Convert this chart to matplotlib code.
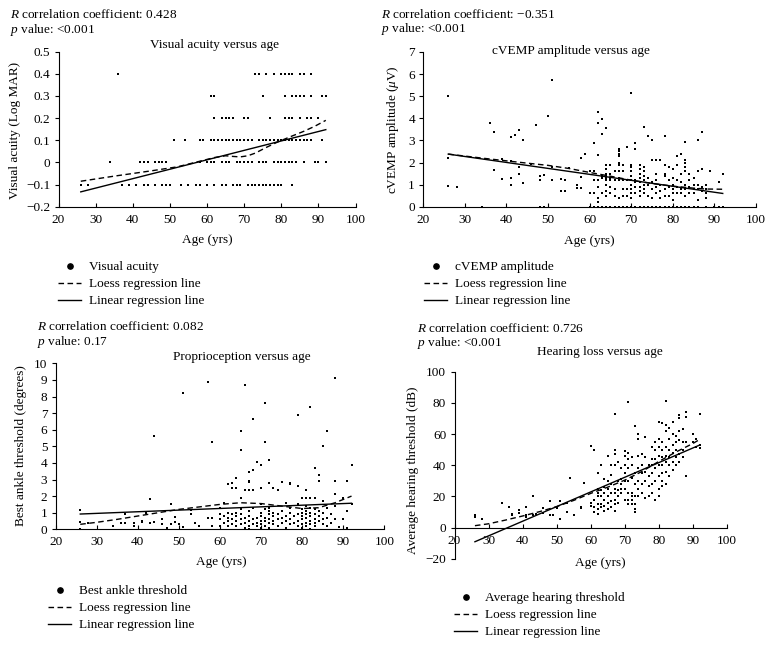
import numpy as np
import matplotlib
matplotlib.use("Agg")
import matplotlib.pyplot as plt
from matplotlib.lines import Line2D
from matplotlib.ticker import FuncFormatter, MultipleLocator

plt.rcParams["font.family"] = ["Liberation Serif", "DejaVu Serif"]
plt.rcParams["mathtext.fontset"] = "custom"
plt.rcParams["mathtext.rm"] = "Liberation Serif"
plt.rcParams["mathtext.it"] = "Liberation Serif:italic"
plt.rcParams["font.size"] = 9.5

# ---- visual acuity (LogMAR rows and the ages found on each row)
va_rows = [-0.1, 0.0, 0.1, 0.2, 0.3, 0.4]
va_ages = [
    [26, 28, 37, 39, 41, 43, 44, 46, 48, 49, 50, 53, 55, 57, 58, 60, 62, 64, 65,
     67, 68, 69, 71, 72, 73, 74, 75, 76, 77, 78, 79, 80, 83],
    [34, 42, 43, 44, 46, 47, 48, 49, 58, 60, 61, 62, 64, 65, 66, 68, 69, 70, 71,
     72, 74, 75, 76, 78, 79, 80, 81, 82, 83, 84, 86, 89, 90, 92],
    [51, 54, 58, 59, 61, 62, 63, 64, 65, 66, 67, 68, 69, 70, 71, 72, 74, 75, 76,
     77, 78, 79, 80, 81, 82, 83, 84, 85, 86, 87, 88, 91],
    [62, 64, 65, 66, 67, 70, 71, 77, 81, 82, 83, 85, 87, 88, 90],
    [61, 62, 75, 81, 83, 84, 85, 86, 88, 91, 92],
    [36, 73, 74, 76, 78, 80, 81, 82, 83, 85, 86, 88],
]
va_loess_x = [26, 35, 45, 52, 58, 62, 65, 67, 69, 71, 73, 76, 79, 82, 86, 89, 92]
va_loess_y = [-0.085, -0.062, -0.038, -0.02, 0.005, 0.022, 0.03, 0.027, 0.025,
              0.03, 0.042, 0.068, 0.092, 0.113, 0.14, 0.163, 0.19]
va_lin_x = [26, 92]
va_lin_y = [-0.133, 0.148]

# ---- cVEMP amplitude (uV) per age
cv_ages = [26, 28, 34, 36, 37, 39, 41, 42, 43, 44, 46, 47, 48, 49, 50, 51, 53, 54,
           55, 57, 58, 59, 60, 61, 62, 63, 64, 65, 66, 67, 68, 69, 70, 71, 72, 73,
           74, 75, 76, 77, 78, 79, 80, 81, 82, 83, 84, 85, 86, 87, 88, 89, 90, 91, 92]
cv_vals = [
    [5.0, 2.2, 0.95], [0.87], [0], [3.8], [3.4, 1.65], [2.15, 1.25],
    [3.15, 2.05, 1.3, 1.0], [3.25], [3.45, 1.8, 1.5], [3.0, 1.05], [1.95], [3.7],
    [1.4, 1.2, 0], [1.45, 0], [4.1], [5.75, 1.8, 1.2], [1.25, 0.7], [1.2, 0.7],
    [1.75], [1.0, 0.85], [2.2, 1.35, 0.85], [2.4], [1.6, 0.6, 0],
    [2.9, 1.6, 1.2, 0.6, 0], [4.3, 3.8, 2.35, 1.2, 0.9, 0.4, 0.2, 0],
    [3.95, 3.3, 1.4, 1.3, 0.6, 0], [3.55, 1.9, 1.7, 1.5, 1.4, 1.3, 1.2, 1.0, 0.7, 0.5, 0],
    [1.9, 1.5, 1.3, 1.2, 0.9, 0.6, 0], [1.6, 1.2, 0.8, 0.5, 0],
    [2.6, 2.5, 2.4, 2.3, 2.0, 1.9, 1.6, 1.3, 1.2, 0.4, 0],
    [1.9, 1.6, 1.2, 0.8, 0.5, 0], [2.7, 1.2, 0.8, 0.5, 0],
    [5.15, 1.9, 1.8, 1.6, 1.4, 1.2, 1.0, 0.8, 0.6, 0.4, 0],
    [2.9, 2.6, 1.2, 1.1, 0.9, 0.6, 0], [1.9, 1.7, 1.5, 1.3, 1.1, 0.9, 0.7, 0.5, 0],
    [3.6, 1.8, 1.6, 1.4, 1.2, 1.0, 0.8, 0.6, 0], [3.2, 1.3, 1.0, 0.5, 0],
    [3.0, 2.1, 1.1, 0.8, 0.4, 0], [2.1, 1.5, 1.2, 0.9, 0.6, 0], [2.1, 1.0, 0.7, 0.4, 0],
    [3.2, 1.9, 1.5, 1.4, 0.8, 0.5, 0], [1.8, 1.2, 0.9, 0.5, 0],
    [1.7, 1.3, 1.0, 0.8, 0.6, 0.3, 0], [2.3, 1.9, 1.2, 0.9, 0.6, 0],
    [2.4, 1.5, 1.1, 0.8, 0.6, 0], [2.95, 2.1, 2.0, 1.8, 1.6, 1.0, 0.8, 0.5, 0],
    [1.5, 1.2, 0.9, 0.6, 0], [1.3, 1.0, 0.8, 0.6, 0], [3.0, 1.6, 1.0, 0.8, 0.3, 0],
    [3.4, 1.7, 0.9, 0.7], [1.0, 0.8, 0.6, 0.4, 0], [1.6], [0], [1.1, 0], [1.5, 0],
]
cv_loess_x = [26, 35, 45, 50, 55, 60, 65, 70, 75, 80, 85, 88, 92]
cv_loess_y = [2.38, 2.18, 1.97, 1.87, 1.73, 1.55, 1.38, 1.2, 1.05, 0.93, 0.84, 0.8, 0.79]
cv_lin_x = [26, 92]
cv_lin_y = [2.38, 0.6]

# ---- best ankle threshold (degrees) per age
an_ages = [26, 28, 34, 36, 37, 39, 41, 42, 43, 44, 46, 47, 48, 49, 50, 51, 53, 54,
           55, 57, 58, 60, 61, 62, 63, 64, 65, 66, 67, 68, 69, 70, 71, 72, 73, 74,
           75, 76, 77, 78, 79, 80, 81, 82, 83, 84, 85, 86, 87, 88, 89, 90, 91, 92]
an_vals = [
    [1.15, 0.45, 0], [0.4], [0.2], [0.35], [0.35, 0.9], [0.4, 0.2], [0.5, 0.45],
    [1.0], [1.85, 0.4], [5.65, 0.45], [0.6, 0.3], [0.05], [1.55, 0.3],
    [0.75, 0.45], [0.3], [8.2, 0.15], [1.15, 0.9], [0.35], [0.2], [8.85, 0.7],
    [5.25, 0.7, 0.2], [1.3, 0.9, 0.6, 0.2], [1.6, 0.8, 0.4],
    [2.75, 1.0, 0.7, 0.5, 0.2], [2.8, 2.5, 0.9, 0.6, 0.3],
    [3.1, 2.5, 1.0, 0.8, 0.5, 0.2], [5.95, 4.8, 1.9, 1.2, 0.9, 0.6, 0.3],
    [8.7, 2.35, 0.7, 0.4, 0.1], [3.45, 2.9, 2.85, 2.35, 1.1, 0.8, 0.5, 0.2, 0.0],
    [6.65, 3.6, 2.35, 1.3, 0.6, 0.3], [4.05, 0.7, 0.4, 0.2],
    [3.85, 2.5, 1.5, 1.0, 0.8, 0.5, 0.3, 0.1], [7.6, 5.25, 1.2, 0.7, 0.5, 0.2],
    [4.15, 2.8, 1.3, 1.1, 0.9, 0.6, 0.4, 0.1], [2.5, 1.0, 0.8, 0.5, 0.3],
    [2.35, 0.9, 0.6, 0.2], [2.85, 1.1, 0.7, 0.4], [1.6, 0.8, 0.5, 0.1],
    [2.8, 2.7, 1.3, 1.0, 0.6, 0.3], [0.8, 0.4], [6.9, 2.6, 1.5, 0.9, 0.5, 0.2],
    [1.9, 1.2, 1.0, 0.8, 0.6, 0.3, 0.1], [2.35, 1.9, 1.4, 1.1, 0.9, 0.7, 0.4, 0.2],
    [7.35, 1.9, 1.3, 1.0, 0.8, 0.5, 0.3, 0.0], [3.7, 1.9, 1.2, 0.9, 0.6, 0.4, 0.2],
    [3.3, 2.9, 1.1, 0.8, 0.5], [5.0, 1.7, 1.0, 0.6, 0.3], [5.9, 1.3, 0.7, 0.2],
    [0.9, 0.4], [9.1, 2.9, 2.15, 1.4, 0.6], [0.15], [1.9, 0.6], [2.9, 1.1, 0.05],
    [3.85, 1.5],
]
an_loess_x = [26, 30, 35, 40, 45, 50, 55, 60, 65, 70, 75, 80, 84, 88, 92]
an_loess_y = [0.3, 0.42, 0.6, 0.8, 1.0, 1.2, 1.35, 1.5, 1.6, 1.55, 1.4, 1.25, 1.3, 1.6, 2.0]
an_lin_x = [26, 92]
an_lin_y = [0.92, 1.57]

# ---- average hearing threshold (dB) per age
he_ages = [26, 28, 34, 36, 37, 39, 41, 43, 44, 46, 48, 49, 50, 51, 53, 54, 55, 57,
           58, 60, 61, 62, 63, 64, 65, 66, 67, 68, 69, 70, 71, 72, 73, 74, 75, 76,
           77, 78, 79, 80, 81, 82, 83, 84, 85, 86, 87, 88, 90, 91, 92]
he_vals = [
    [8, 6.6], [5.5], [16], [13.5], [9, 8], [11.3, 9.6], [13.5, 8, 7], [20.3, 8],
    [9], [12.4, 9.6], [17.3, 8], [8], [13.5, 12.4], [17, 5.3], [15.6, 10.3], [32],
    [8], [13.5, 12.4], [28.4], [52.4, 15.6, 14], [49.8, 17.7, 13.5, 10],
    [35, 25, 22, 20, 15, 12, 9], [40, 24, 20, 15, 13], [31, 26, 22, 18, 14, 11],
    [46, 30, 25, 20, 16, 12], [40, 34, 28, 22, 17, 13],
    [73, 50, 47, 40, 25, 22, 18, 15, 11], [42, 30, 24, 20, 16], [38, 31, 28, 25, 22],
    [49, 46, 40, 35, 30, 25, 18], [80.5, 48, 44, 38, 30, 22, 18, 15],
    [45, 40, 32, 22, 20, 18, 15], [65, 35, 28, 20, 15, 12, 10],
    [60, 57, 46, 38, 30, 25, 20], [47, 40, 35, 28, 22], [58, 45, 36, 30, 19],
    [40, 33, 27, 20], [52, 44, 40, 35, 28, 22], [55, 50, 44, 38, 30, 18],
    [68, 57, 52, 46, 40, 33, 25, 20], [67, 55, 50, 45, 40, 35, 30, 27],
    [81, 66, 62, 52, 46, 42, 36, 28], [64, 57, 50, 45, 40, 33],
    [68, 60, 53, 48, 42, 37], [59, 55, 50, 45, 40], [72, 70, 62, 56, 47, 42],
    [63, 55, 50, 45], [74, 71, 55, 33], [60, 55], [57, 52], [73, 53, 51],
]
he_loess_x = [26, 30, 35, 40, 45, 50, 55, 60, 65, 70, 75, 80, 85, 90, 92]
he_loess_y = [1.3, 2.5, 4.9, 7.5, 10.3, 13.5, 17.5, 22, 26, 30.5, 36, 42.5, 48.5, 54, 56.6]
he_lin_x = [26, 92]
he_lin_y = [-9, 53]

W, H = 770, 645


def px_box(x0, x1, y_top, y_bot):
    return [x0 / W, 1 - y_bot / H, (x1 - x0) / W, (y_bot - y_top) / H]


def fx(x):
    return x / W


def fy(y):
    return 1 - y / H


def expand(keys, groups):
    xs, ys = [], []
    for k, g in zip(keys, groups):
        xs += [k] * len(g)
        ys += list(g)
    return np.array(xs), np.array(ys)


def tick_fmt(v, _):
    v = round(v, 2) + 0.0
    return f"{v:g}".replace("-", "\u2212")


fig = plt.figure(figsize=(W / 100, H / 100), dpi=100)


def panel(box, x, y, lx, ly, nx, ny, ylim, ystep, ylabel, ylab_xy,
          title, title_xy, r_txt, p_txt, note_xy, name, leg_xy, xlab_xy):
    ax = fig.add_axes(px_box(*box))
    ax.plot(x, y, "s", ms=2.0, mew=0, color="k", clip_on=False)
    ax.plot(nx, ny, color="k", lw=1.0, dashes=(4, 2.5))
    ax.plot(lx, ly, color="k", lw=1.0)
    ax.set_xlim(20, 100)
    ax.set_ylim(*ylim)
    ax.xaxis.set_major_locator(MultipleLocator(10))
    ax.yaxis.set_major_locator(MultipleLocator(ystep))
    ax.yaxis.set_major_formatter(FuncFormatter(tick_fmt))
    for s in ["top", "right"]:
        ax.spines[s].set_visible(False)
    for s in ["left", "bottom"]:
        ax.spines[s].set_linewidth(0.8)
    ax.tick_params(axis="x", direction="in", length=3, width=0.8, pad=5, labelsize=9.5)
    ax.tick_params(axis="y", direction="out", length=3, width=0.8, pad=3, labelsize=9.5)
    ax.patch.set_visible(False)

    ax.set_xlabel("Age (yrs)", fontsize=9.5)
    ax.xaxis.set_label_coords(fx(xlab_xy[0]), fy(xlab_xy[1]), transform=fig.transFigure)
    ax.xaxis.label.set_va("center")
    ax.set_ylabel(ylabel, fontsize=9.5)
    ax.yaxis.set_label_coords(fx(ylab_xy[0]), fy(ylab_xy[1]), transform=fig.transFigure)
    ax.yaxis.label.set_va("center")

    fig.text(fx(title_xy[0]), fy(title_xy[1]), title, ha="center", va="center", fontsize=9.5)
    fig.text(fx(note_xy[0]), fy(note_xy[1]), r_txt, ha="left", va="center", fontsize=9.5)
    fig.text(fx(note_xy[0]), fy(note_xy[1] + 15), p_txt, ha="left", va="center", fontsize=9.5)

    handles = [
        Line2D([], [], ls="none", marker="o", ms=3.8, color="k"),
        Line2D([], [], color="k", lw=1.0, dashes=(4, 2.5)),
        Line2D([], [], color="k", lw=1.0),
    ]
    labels = [name, "Loess regression line", "Linear regression line"]
    ax.legend(handles, labels, loc="upper left",
              bbox_to_anchor=(fx(leg_xy[0]), fy(leg_xy[1])),
              bbox_transform=fig.transFigure, frameon=False, borderpad=0,
              borderaxespad=0, handlelength=1.75, handletextpad=0.6,
              labelspacing=0.36, fontsize=9.5)
    return ax


vx, vy = expand(va_rows, va_ages)
panel((58.5, 355.5, 51.7, 206.7), vy, vx, va_lin_x, va_lin_y, va_loess_x, va_loess_y,
      (-0.2, 0.5), 0.1, "Visual acuity (Log MAR)", (15, 130),
      "Visual acuity versus age", (215, 45),
      "$R$ correlation coefficient: 0.428", "$p$ value: <0.001", (10, 15),
      "Visual acuity", (58, 261), (207, 240))

cx, cy = expand(cv_ages, cv_vals)
panel((423.3, 756, 52, 206.7), cx, cy, cv_lin_x, cv_lin_y, cv_loess_x, cv_loess_y,
      (0, 7), 1, "cVEMP amplitude ($\\mu$V)", (393, 130),
      "cVEMP amplitude versus age", (571, 51),
      "$R$ correlation coefficient: \u22120.351", "$p$ value: <0.001", (381, 14),
      "cVEMP amplitude", (424, 261), (589, 241))

ax_x, ax_y = expand(an_ages, an_vals)
panel((55.6, 384.4, 363.3, 529.3), ax_x, ax_y, an_lin_x, an_lin_y, an_loess_x, an_loess_y,
      (0, 10), 1, "Best ankle threshold (degrees)", (21, 446),
      "Proprioception versus age", (242, 357),
      "$R$ correlation coefficient: 0.082", "$p$ value: 0.17", (37, 327),
      "Best ankle threshold", (48, 585), (221, 562))

hx, hy = expand(he_ages, he_vals)
ax4 = panel((454.5, 727, 371.7, 558.9), hx, hy, he_lin_x, he_lin_y, he_loess_x, he_loess_y,
            (-20, 100), 20, "Average hearing threshold (dB)", (413, 470),
            "Hearing loss versus age", (600, 352),
            "$R$ correlation coefficient: 0.726", "$p$ value: <0.001", (417, 328),
            "Average hearing threshold", (454, 592), (600, 563))
ax4.spines["bottom"].set_position(("data", 0))

fig.savefig("out.png", dpi=100)
